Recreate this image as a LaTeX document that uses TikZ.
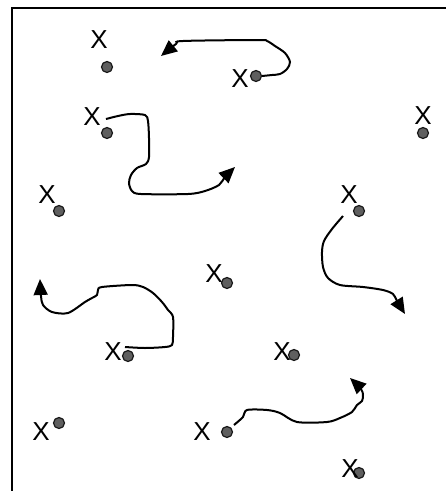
\documentclass[tikz,border=0pt]{standalone}
\usepackage{fontspec}
\setmainfont{Liberation Sans}
\usetikzlibrary{arrows.meta}
\definecolor{dotgray}{RGB}{95,95,95}

\begin{document}
\begin{tikzpicture}[x=1pt, y=-1pt,
    particle/.style={circle, draw=black!90, line width=1.2pt, fill=dotgray,
        inner sep=0pt, minimum size=11pt},
    tag/.style={inner sep=0pt, font=\fontsize{26}{26}\selectfont},
    walk/.style={line width=2pt, -{Triangle[length=16pt,width=14pt]}}]
    \useasboundingbox (0,0) rectangle (446,491);

    % Frame
    \draw[line width=2pt] (12,491) -- (12,8) -- (446,8);

    % Particles
    \node[particle] (p1) at (107,67) {};
    \node[particle] (p2) at (256,76) {};
    \node[particle] (p3) at (107,133) {};
    \node[particle] (p4) at (423,133) {};
    \node[particle] (p5) at (59,211) {};
    \node[particle] (p6) at (359,211) {};
    \node[particle] (p7) at (227,283) {};
    \node[particle] (p8) at (128,356) {};
    \node[particle] (p9) at (294,355) {};
    \node[particle] (p10) at (59,423) {};
    \node[particle] (p11) at (227,432) {};
    \node[particle] (p12) at (359,473) {};

    % Labels
    \node[tag] (x1) at (99,40) {X};
    \node[tag] (x2) at (240,79) {X};
    \node[tag] (x3) at (92,117) {X};
    \node[tag] (x4) at (423,116) {X};
    \node[tag] (x5) at (47,195) {X};
    \node[tag] (x6) at (349,195) {X};
    \node[tag] (x7) at (214,274) {X};
    \node[tag] (x8) at (113,352) {X};
    \node[tag] (x9) at (282,352) {X};
    \node[tag] (x10) at (41,432) {X};
    \node[tag] (x11) at (202,432) {X};
    \node[tag] (x12) at (350,469) {X};

    % Ends of the walks
    \coordinate (t1) at (161,56);
    \coordinate (t2) at (235,167);
    \coordinate (t3) at (405,314);
    \coordinate (t4) at (40,279);
    \coordinate (t5) at (350,378);

    % Walks
    \draw[walk] plot[smooth] coordinates {(p2.east) (272,75) (280,74)
        (287,69) (290,62) (285,53) (275,46) (267,41) (258,40) (183,41)
        (176,44) (t1)};
    \draw[walk] plot[smooth] coordinates {([shift={(-1,-14)}]p3.center)
        (118,116) (130,114) (145,115) (148,121) (149,138) (149,157)
        (146,164) (137,168) (131,175) (129,183) (132,191) (141,194)
        (188,194) (205,191) (219,185) (225,177) (t2)};
    \draw[walk] plot[smooth] coordinates {([shift={(-16,5)}]p6.center)
        (332,229) (324,241) (322,252) (323,267) (328,278) (340,285)
        (363,287) (383,290) (393,294) (397,301) (t3)};
    \draw[walk] plot[smooth] coordinates {([shift={(-3,-9)}]p8.center)
        (145,348) (165,347) (172,345) (173,337) (173,317) (168,310)
        (162,302) (153,293) (143,287) (132,285) (102,287) (98,290)
        (97,295) (92,298) (85,302) (68,313) (52,312) (43,305) (41,296)
        (t4)};
    \draw[walk] plot[smooth] coordinates {([shift={(7,-7)}]p11.center)
        (243,417) (247,410) (267,410) (280,413) (297,422) (327,422)
        (340,418) (352,412) (357,405) (362,401) (363,395) (361,389)
        (t5)};
\end{tikzpicture}
\end{document}
